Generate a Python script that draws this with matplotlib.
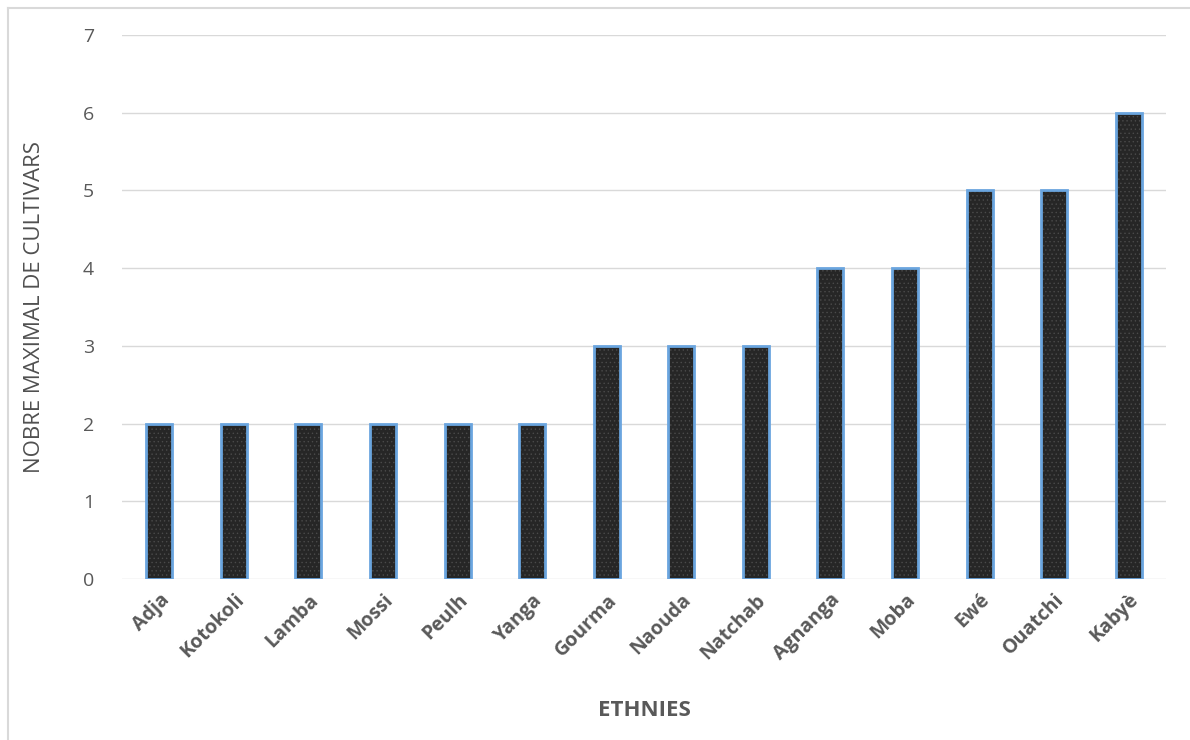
import matplotlib
matplotlib.use("Agg")
import matplotlib.pyplot as plt
from matplotlib.lines import Line2D

ethnies = ["Adja", "Kotokoli", "Lamba", "Mossi", "Peulh", "Yanga", "Gourma",
           "Naouda", "Natchab", "Agnanga", "Moba", "Ewé", "Ouatchi", "Kabyè"]
cultivars = [2, 2, 2, 2, 2, 2, 3, 3, 3, 4, 4, 5, 5, 6]
y_ticks = [0, 1, 2, 3, 4, 5, 6, 7]

plt.rcParams['font.family'] = ['Open Sans', 'DejaVu Sans']
plt.rcParams['hatch.linewidth'] = 0.5

fig = plt.figure(figsize=(11.9, 7.4), dpi=100)
ax = fig.add_axes([122 / 1190, 1 - 579 / 740, 1044 / 1190, 544 / 740])

x = list(range(len(ethnies)))
# dark dotted fill, then the light blue outline on top
ax.bar(x, cultivars, width=0.35, color='#262626', edgecolor='#4a4a4a',
       linewidth=0, hatch='....', zorder=3)
ax.bar(x, cultivars, width=0.35, fill=False, edgecolor='#6aa5df',
       linewidth=2, zorder=4)

ax.set_xlim(-0.5, len(ethnies) - 0.5)
ax.set_ylim(0, 7)
ax.set_yticks(y_ticks)
ax.set_xticks(x)
ax.set_xticklabels(ethnies, rotation=45, ha='right', rotation_mode='anchor',
                   fontsize=14, fontweight='bold', color='#595959')
ax.tick_params(axis='y', labelsize=14, labelcolor='#595959', length=0, pad=20)
ax.tick_params(axis='x', length=0, pad=8)
ax.grid(axis='y', color='#d9d9d9', linewidth=1, zorder=0)
for s in ax.spines.values():
    s.set_visible(False)

ax.set_ylabel("NOBRE MAXIMAL DE CULTIVARS", fontsize=16, color='#505050')
ax.yaxis.set_label_coords(-77 / 1044, 0.5)
ax.set_xlabel("ETHNIES", fontsize=16, fontweight='bold', color='#595959')
ax.xaxis.set_label_coords((644 - 122) / 1044, -(700 - 579) / 544)

# chart border (only top and left edges are visible in the picture)
fig.add_artist(Line2D([8 / 1190, 8 / 1190], [0, 1 - 8 / 740],
                      transform=fig.transFigure, color='#d9d9d9', linewidth=1.5))
fig.add_artist(Line2D([8 / 1190, 1], [1 - 8 / 740, 1 - 8 / 740],
                      transform=fig.transFigure, color='#d9d9d9', linewidth=1.5))

fig.savefig("out.png", dpi=100)
